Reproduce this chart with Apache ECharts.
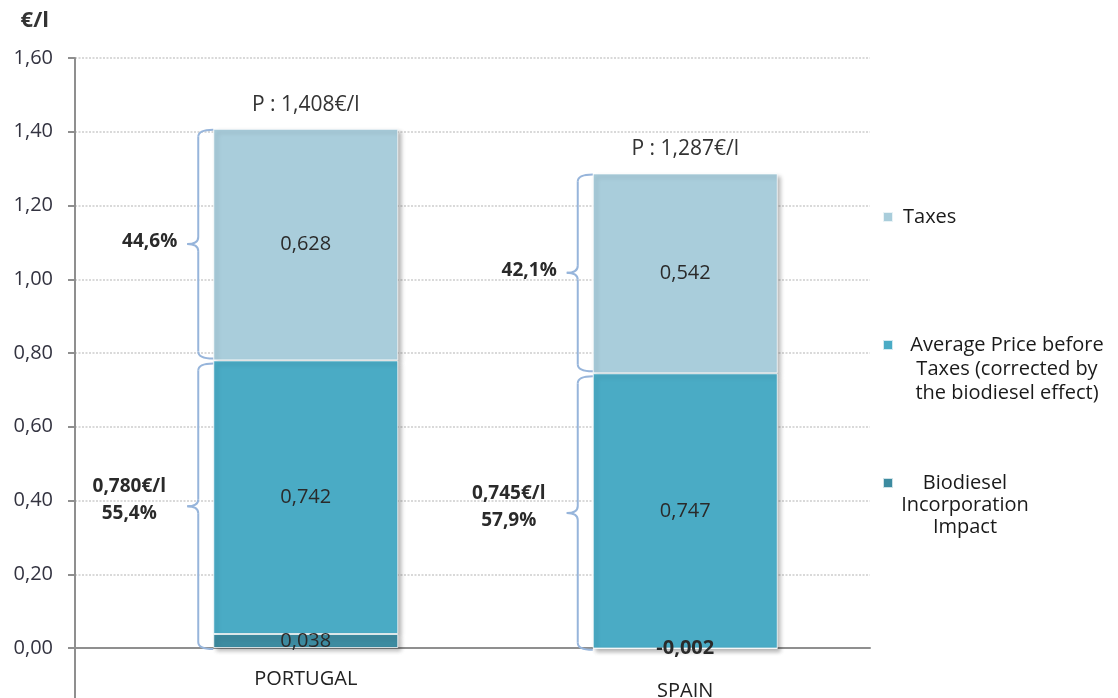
<!DOCTYPE html>
<html>
<head>
<meta charset="utf-8">
<script src="https://cdn.jsdelivr.net/npm/echarts@6/dist/echarts.min.js"></script>
<style>
  html, body { margin: 0; padding: 0; background: #ffffff; }
  #chart { width: 1118px; height: 698px; }
</style>
</head>
<body>
<div id="chart"></div>
<script>
// Diesel retail price breakdown (€/l)
const countries = ['PORTUGAL', 'SPAIN'];
const biodieselImpact = [0.038, -0.002];
const priceBeforeTaxes = [0.742, 0.747];
const taxes = [0.628, 0.542];

const seriesNames = [
  'Taxes',
  'Average Price before\nTaxes (corrected by\nthe biodiesel effect)',
  'Biodiesel\nIncorporation\nImpact'
];

const colors = ['#A9CDDB', '#4AABC5', '#3D8BA0'];
const FONT = '"Open Sans", "Noto Sans", sans-serif';
const BAR_W = 185;
const BRACE_COLOR = '#97B5DB';

// value axis: -0.20 … 1.60, plot height per 0.20 step
const Y_MIN = -0.2, Y_MAX = 1.6, Y_STEP = 0.2;
const STEP_PX = 73.75;
const PLOT_H = (Y_MAX - Y_MIN) / Y_STEP * STEP_PX;
const ZERO_FROM_BOTTOM = -Y_MIN / Y_STEP * STEP_PX;

const fmt3 = v => v.toFixed(3).replace('.', ',');
const fmtPct = v => (v * 100).toFixed(1).replace('.', ',') + '%';

// bar-stack boundaries per country: bottom, split between price and taxes, top
const stackBottom = biodieselImpact.map(v => Math.min(0, v));
const stackSplit = biodieselImpact.map((v, i) => v + priceBeforeTaxes[i]);
const stackTop = stackSplit.map((v, i) => v + taxes[i]);

const chart = echarts.init(document.getElementById('chart'), null, { renderer: 'canvas' });

function brace(x, hookX, y1, y2, tipW) {
  const r = 7;
  const ym = (y1 + y2) / 2;
  const st = { stroke: BRACE_COLOR, lineWidth: 2, fill: null };
  return [
    { type: 'bezierCurve', shape: { x1: hookX, y1: y1, cpx1: x, cpy1: y1, x2: x, y2: y1 + r }, style: st },
    { type: 'line', shape: { x1: x, y1: y1 + r, x2: x, y2: ym - r }, style: st },
    { type: 'bezierCurve', shape: { x1: x, y1: ym - r, cpx1: x, cpy1: ym, x2: x - tipW, y2: ym }, style: st },
    { type: 'bezierCurve', shape: { x1: x - tipW, y1: ym, cpx1: x, cpy1: ym, x2: x, y2: ym + r }, style: st },
    { type: 'line', shape: { x1: x, y1: ym + r, x2: x, y2: y2 - r }, style: st },
    { type: 'bezierCurve', shape: { x1: x, y1: y2 - r, cpx1: x, cpy1: y2, x2: hookX, y2: y2 }, style: st }
  ];
}

const barSeries = [
  { name: seriesNames[2], data: biodieselImpact, z: 4,
    labelFor: v => ({ fontWeight: v < 0 ? 'bold' : 'normal' }) },
  { name: seriesNames[1], data: priceBeforeTaxes, z: 3 },
  { name: seriesNames[0], data: taxes, z: 2 }
].map((s, k) => ({
  type: 'bar',
  name: s.name,
  xAxisIndex: 1,
  yAxisIndex: 1,
  stack: 'price',
  stackStrategy: 'all',
  barWidth: BAR_W,
  z: s.z,
  itemStyle: {
    color: colors[2 - k],
    borderColor: 'rgba(255,255,255,0.75)',
    borderWidth: 1,
    shadowColor: 'rgba(0,0,0,0.28)',
    shadowBlur: 4,
    shadowOffsetX: 3,
    shadowOffsetY: 3
  },
  label: {
    show: true,
    position: 'inside',
    fontFamily: FONT,
    fontSize: 20,
    color: '#2a2a2a',
    formatter: p => fmt3(p.value)
  },
  data: s.data.map(v => s.labelFor ? { value: v, label: s.labelFor(v) } : v)
}));

const braceSeries = {
  type: 'custom',
  xAxisIndex: 1,
  yAxisIndex: 1,
  z: 6,
  silent: true,
  data: countries.map((c, i) => [i, stackBottom[i], stackSplit[i], stackTop[i]]),
  renderItem: function (params, api) {
    const i = api.value(0);
    const low = api.value(1), mid = api.value(2), high = api.value(3);
    const cx = api.coord([i, 0])[0];
    const yLow = api.coord([i, low])[1];
    const yMid = api.coord([i, mid])[1];
    const yHigh = api.coord([i, high])[1];
    const barLeft = cx - BAR_W / 2;
    const x = barLeft - 15;
    const tipW = 11;
    const total = biodieselImpact[i] + priceBeforeTaxes[i] + taxes[i];
    const upper = brace(x, barLeft, yHigh + 1, yMid - 2, tipW);
    const lower = brace(x, barLeft, yMid + 3, yLow + 1, tipW);
    const texts = [
      { type: 'text', style: {
          text: fmtPct(taxes[i] / total),
          x: x - tipW - 10, y: (yHigh + yMid) / 2 - 3,
          align: 'right', verticalAlign: 'middle',
          fontFamily: FONT, fontSize: 19, fontWeight: 'bold', fill: '#2a2a2a' } },
      { type: 'text', style: {
          text: fmt3(mid) + '€/l\n' + fmtPct(mid / total),
          x: x - tipW - 58, y: (yMid + yLow) / 2 - 4,
          align: 'center', verticalAlign: 'middle', lineHeight: 27,
          fontFamily: FONT, fontSize: 19, fontWeight: 'bold', fill: '#2a2a2a' } },
      { type: 'text', style: {
          text: 'P : ' + fmt3(total) + '€/l',
          x: cx, y: yHigh - 24,
          align: 'center', verticalAlign: 'middle',
          fontFamily: FONT, fontSize: 21, fill: '#333333' } }
    ];
    return { type: 'group', children: upper.concat(lower, texts) };
  }
};

function legendFor(name, top, width, lineHeight, leadingBlank) {
  return {
    data: [name],
    left: 882,
    top: top,
    padding: 0,
    selectedMode: false,
    icon: 'rect',
    itemWidth: 10,
    itemHeight: 10,
    formatter: n => '{c|' + (leadingBlank ? '\n\n' : '') + n + '}',
    textStyle: {
      rich: {
        c: {
          fontFamily: FONT,
          fontSize: 20,
          color: '#1a1a1a',
          lineHeight: lineHeight,
          width: width,
          align: width ? 'center' : 'left',
          padding: width ? 0 : [0, 0, 0, 5]
        }
      }
    }
  };
}

const yAxisBase = {
  type: 'value',
  min: Y_MIN,
  max: Y_MAX,
  interval: Y_STEP
};

const option = {
  backgroundColor: '#ffffff',
  animation: false,
  grid: [
    { left: 75, top: 58, width: 795, height: PLOT_H, containLabel: false, outerBoundsMode: 'none' },
    { left: 116, top: 58, width: 759, height: PLOT_H, containLabel: false, outerBoundsMode: 'none' }
  ],
  xAxis: [
    {
      type: 'category',
      gridIndex: 0,
      data: countries,
      axisLine: { onZero: true, lineStyle: { color: '#8f8f8f', width: 2 } },
      axisTick: { show: false },
      axisLabel: { show: false },
      splitLine: { show: false }
    },
    {
      type: 'category',
      gridIndex: 1,
      data: countries,
      position: 'bottom',
      // lift the category labels from the bottom of the plot up to the zero line
      offset: -ZERO_FROM_BOTTOM,
      axisLine: { show: false, onZero: false },
      axisTick: { show: false },
      splitLine: { show: false },
      axisLabel: {
        margin: 21,
        formatter: v => v === 'SPAIN' ? '{s|' + v + '}' : '{p|' + v + '}',
        rich: {
          p: { fontFamily: FONT, fontSize: 20, color: '#222222' },
          s: { fontFamily: FONT, fontSize: 20, color: '#222222', padding: [12, 0, 0, 0] }
        }
      }
    }
  ],
  yAxis: [
    Object.assign({}, yAxisBase, {
      gridIndex: 0,
      name: '€/l',
      nameLocation: 'end',
      nameGap: 37,
      nameTextStyle: {
        fontFamily: FONT, fontSize: 22, fontWeight: 'bold', color: '#333333',
        align: 'right', verticalAlign: 'middle', padding: [0, 26, 0, 0]
      },
      axisLine: { show: true, lineStyle: { color: '#8f8f8f', width: 2 } },
      axisTick: { show: true, length: 7, lineStyle: { color: '#8f8f8f', width: 2 } },
      axisLabel: {
        margin: 22,
        fontFamily: FONT,
        fontSize: 20,
        color: '#333340',
        formatter: v => v < 0 ? '' : v.toFixed(2).replace('.', ',')
      },
      splitLine: { show: true, lineStyle: { color: '#cdcdcd', width: 1.5, type: [2, 1.5] } }
    }),
    Object.assign({}, yAxisBase, {
      gridIndex: 1,
      axisLine: { show: false },
      axisTick: { show: false },
      axisLabel: { show: false },
      splitLine: { show: false }
    })
  ],
  legend: [
    legendFor(seriesNames[0], 207, 0, 22, false),
    legendFor(seriesNames[1], 287, 218, 24, true),
    legendFor(seriesNames[2], 429, 134, 22, true)
  ],
  series: barSeries.concat([braceSeries])
};

chart.setOption(option);
</script>
</body>
</html>
